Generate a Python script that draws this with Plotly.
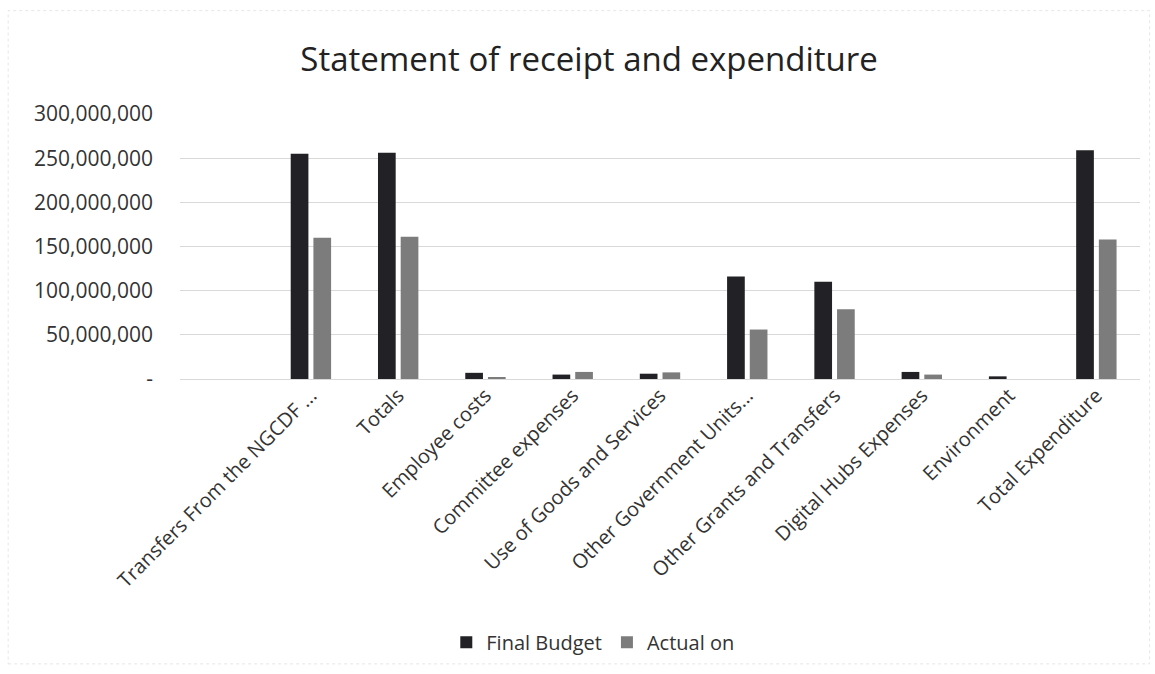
import plotly.graph_objects as go

categories = [
    "Transfers From the NGCDF ...",
    "Totals",
    "Employee costs",
    "Committee expenses",
    "Use of Goods and Services",
    "Other Government Units...",
    "Other Grants and Transfers",
    "Digital Hubs Expenses",
    "Environment",
    "Total Expenditure",
]
final_budget = [255e6, 256e6, 7e6, 5e6, 6e6, 116e6, 110e6, 8e6, 3e6, 259e6]
actual_on = [160e6, 161e6, 2e6, 8e6, 7.5e6, 56e6, 79e6, 5e6, 0, 158e6]

tick_vals = [0, 50e6, 100e6, 150e6, 200e6, 250e6, 300e6]
tick_text = ["-", "50,000,000", "100,000,000", "150,000,000",
             "200,000,000", "250,000,000", "300,000,000"]

FONT = "Open Sans, Noto Sans, sans-serif"

fig = go.Figure()
fig.add_trace(go.Bar(name="Final Budget", x=categories, y=final_budget,
                     marker=dict(color="#222226", line=dict(width=0))))
fig.add_trace(go.Bar(name="Actual on", x=categories, y=actual_on,
                     marker=dict(color="#7c7c7c", line=dict(width=0))))

fig.update_layout(
    width=1155, height=674,
    margin=dict(l=180, r=15, t=114, b=295),
    paper_bgcolor="white", plot_bgcolor="white",
    barmode="group", bargap=0.48, bargroupgap=0.22,
    title=dict(text="Statement of receipt and expenditure",
               x=0.51, xanchor="center", y=0.912, yanchor="middle",
               font=dict(family=FONT, size=33, color="#222222")),
    font=dict(family=FONT, color="#333333"),
    showlegend=True,
    legend=dict(orientation="h", x=0.43, xanchor="center",
                yref="container", y=0.047, yanchor="middle",
                font=dict(family=FONT, size=20, color="#333333"),
                itemwidth=30, traceorder="normal"),
)
fig.update_xaxes(type="category", range=[-1.5, 9.5], tickangle=-45,
                 showgrid=False, showline=False, ticks="",
                 tickfont=dict(family=FONT, size=20, color="#333333"))
fig.update_yaxes(range=[0, 300e6], tickvals=tick_vals, ticktext=tick_text,
                 showgrid=True, gridcolor="#d9d9d9", gridwidth=1,
                 zeroline=True, zerolinecolor="#d9d9d9", zerolinewidth=1,
                 showline=False, ticks="", ticklabelstandoff=26,
                 tickfont=dict(family=FONT, size=21, color="#333333"))

fig.add_shape(type="rect", xref="paper", yref="paper",
              x0=-0.179, x1=1.01, y0=-1.075, y1=1.39,
              line=dict(color="#e6e6e6", width=1, dash="dot"),
              fillcolor="rgba(0,0,0,0)", layer="below")

fig.write_html("out.html")
